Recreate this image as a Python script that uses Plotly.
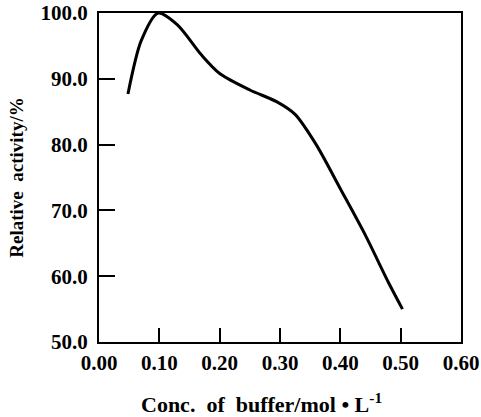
import plotly.graph_objects as go

conc = [0.048, 0.07, 0.098, 0.13, 0.17, 0.20, 0.25, 0.295, 0.325, 0.36, 0.40, 0.44, 0.48, 0.503]
activity = [87.7, 95.8, 100.0, 98.2, 93.6, 90.8, 88.3, 86.5, 84.6, 80.0, 73.3, 66.5, 59.0, 55.0]

x_ticks = [0.0, 0.1, 0.2, 0.3, 0.4, 0.5, 0.6]
y_ticks = [50, 60, 70, 80, 90, 100]

font_family = "Liberation Serif"

fig = go.Figure()
fig.add_trace(go.Scatter(
    x=conc, y=activity, mode="lines",
    line=dict(color="black", width=3, shape="spline", smoothing=0.8),
    showlegend=False,
))

fig.update_layout(
    width=481, height=417,
    margin=dict(l=99, r=20, t=13, b=75),
    paper_bgcolor="white", plot_bgcolor="white",
    font=dict(family=font_family, color="black"),
    xaxis=dict(
        range=[0, 0.6], tickmode="array", tickvals=x_ticks, tickformat=".2f",
        ticks="inside", ticklen=14, tickwidth=2, tickcolor="#000000",
        showline=True, linecolor="black", linewidth=2, mirror=True,
        showgrid=False, zeroline=False, ticklabelstandoff=1, automargin=False,
        tickfont=dict(family=font_family, size=21, color="black", weight="bold"),
    ),
    yaxis=dict(
        range=[50, 100], tickmode="array", tickvals=y_ticks, tickformat=".1f",
        ticks="inside", ticklen=16, tickwidth=2, tickcolor="#000000",
        showline=True, linecolor="black", linewidth=2, mirror=True,
        showgrid=False, zeroline=False, ticklabelstandoff=5, automargin=False,
        tickfont=dict(family=font_family, size=21, color="black", weight="bold"),
        title=dict(text="Relative  activity/%",
                   font=dict(family=font_family, size=19, color="black", weight="bold"),
                   standoff=12),
    ),
)

fig.add_annotation(
    text="Conc.  of  buffer/mol • L<sup>-1</sup>",
    xref="paper", yref="paper", x=0.45, y=-0.185,
    xanchor="center", yanchor="middle", showarrow=False,
    font=dict(family=font_family, size=22, color="black", weight="bold"),
)

fig.write_html("out.html", config={"displayModeBar": False},
               post_script="document.body.style.margin='0';")
